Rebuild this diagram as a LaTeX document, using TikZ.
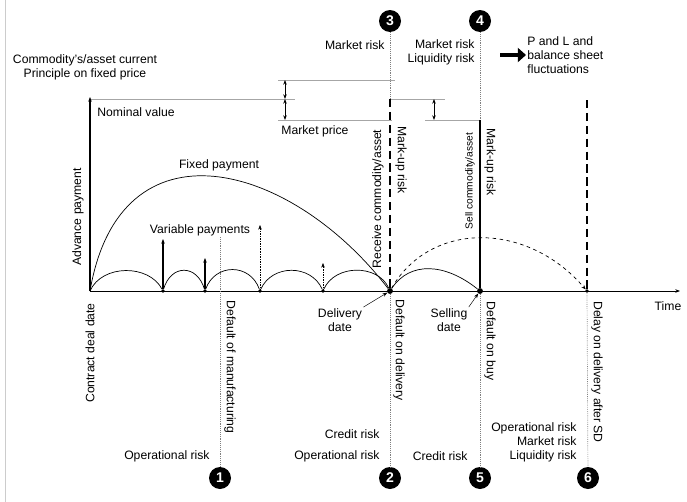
\documentclass[tikz,border=0pt]{standalone}
\usepackage{fontspec}
\setmainfont{Liberation Sans}
\usetikzlibrary{arrows.meta}

\tikzset{
    num/.style={circle, fill=black, text=white, inner sep=0pt, minimum size=0.66cm,
        font=\bfseries\fontsize{12}{12}\selectfont},
    lbl/.style={inner sep=1pt, font=\fontsize{10.4}{12}\selectfont},
    small/.style={inner sep=1pt, font=\fontsize{8.7}{10}\selectfont},
    guide/.style={densely dotted, gray, line width=0.6pt},
    level/.style={gray!70, line width=0.6pt},
    dot/.style={circle, fill=black, inner sep=0pt, minimum size=3pt},
    bigdot/.style={circle, fill=black, inner sep=0pt, minimum size=5pt},
    bigdash/.style={line width=1.3pt, dash pattern=on 7pt off 4pt},
}

\begin{document}
\begin{tikzpicture}[x=0.03cm, y=-0.03cm, >={Stealth[length=4pt,width=3pt]}]
    \useasboundingbox (0,0) rectangle (687,502);
    \draw[gray!40] (5,0) -- (5,502);

    % draws points on the time axis
    \coordinate (o) at (90,291);
    \coordinate (tend) at (680,291);
    \coordinate (ytop) at (90,97);
    \node[dot] (p1) at (163,291) {};
    \node[dot] (p2) at (205,291) {};
    \node[dot] (p3) at (260,291) {};
    \node[dot] (p4) at (323,291) {};
    \node[bigdot] (D) at (390,291) {};
    \node[bigdot] (S) at (480,291) {};
    \node[dot] (E) at (587,291) {};
    \coordinate (dm) at (220,237);

    % draws numbered circles
    \node[num] (n3) at (390,21) {3};
    \node[num] (n4) at (480,21) {4};
    \node[num] (n1) at (220,478) {1};
    \node[num] (n2) at (390,478) {2};
    \node[num] (n5) at (480,478) {5};
    \node[num] (n6) at (588,478) {6};

    % draws price levels
    \coordinate (nomL) at (90,99);
    \coordinate (nomR) at (295,99);
    \coordinate (curL) at (278,80);
    \coordinate (curR) at (395,80);
    \coordinate (mktL) at (278,120);
    \coordinate (mktR) at (392,120);
    \coordinate (rcvL) at (390,99);
    \coordinate (rcvR) at (445,99);
    \coordinate (selL) at (425,120);
    \coordinate (selR) at (480,120);
    \coordinate (dly) at (587,100);
    \draw[level] (nomL) -- (nomR);
    \draw[level] (curL) -- (curR);
    \draw[level] (mktL) -- (mktR);
    \draw[level] (rcvL) -- (rcvR);
    \draw[level] (selL) -- (selR);
    \draw[<->, thick] (285,80) -- (285,99);
    \draw[<->, thick] (285,99) -- (285,120);
    \draw[<->, thick] (434,99) -- (434,120);

    % draws axes
    \draw[->, line width=0.8pt] (o) -- (tend);
    \draw[->, line width=1pt] (o) -- (ytop);

    % draws event lines
    \draw[guide] (n3) -- (rcvL);
    \draw[guide] (n4) -- (selR);
    \draw[guide] (dm) -- (n1);
    \draw[guide] (D) -- (n2);
    \draw[guide] (S) -- (n5);
    \draw[guide] (E) -- (n6);
    \draw[bigdash] (rcvL) -- (D);
    \draw[line width=1.3pt] (selR) -- (S);
    \draw[bigdash] (dly) -- (E);

    % draws payments
    \draw[semithick] (o) .. controls +(30,-175) and +(-100,-130) .. (D);
    \draw[semithick] (o) .. controls +(12,-27) and +(-14,-27) .. (p1);
    \draw[semithick] (p1) .. controls +(8,-27) and +(-8,-27) .. (p2);
    \draw[semithick] (p2) .. controls +(10,-28) and +(-10,-28) .. (p3);
    \draw[semithick] (p3) .. controls +(12,-27) and +(-12,-27) .. (p4);
    \draw[semithick] (p4) .. controls +(12,-27) and +(-12,-27) .. (D);
    \draw[semithick] (D) .. controls +(20,-30) and +(-35,-28) .. (S);
    \draw[semithick, dashed, ->] (D) .. controls +(40,-70) and +(-60,-70) .. (E);
    \coordinate (v1) at (163,239);
    \coordinate (v2) at (205,258);
    \coordinate (v3) at (260,225);
    \coordinate (v4) at (323,263);
    \draw[->, line width=1.2pt] (p1) -- (v1);
    \draw[->, line width=1.2pt] (p2) -- (v2);
    \draw[->, densely dotted] (p3) -- (v3);
    \draw[->, densely dotted] (p4) -- (v4);

    % labels
    \node[lbl, align=center] (curlbl) at (85,67) {Commodity's/asset current\\Principle on fixed price};
    \node[lbl, anchor=west] (nomlbl) at (96,112) {Nominal value};
    \node[lbl, anchor=west] (mktlbl) at (280,131) {Market price};
    \node[lbl] (fixlbl) at (219,165) {Fixed payment};
    \node[lbl] (varlbl) at (200,230) {Variable payments};
    \node[lbl, rotate=90] (advlbl) at (78,217) {Advance payment};
    \node[lbl, rotate=90] (cdd) at (90,353) {Contract deal date};
    \node[lbl, rotate=-90] (dom) at (230,367) {Default of manufacturing};
    \node[lbl, rotate=90] (rcv) at (378,199) {Receive commodity/asset};
    \node[lbl, rotate=-90] (mu1) at (401,160) {Mark-up risk};
    \node[small, rotate=90] (sell) at (470,181) {Sell commodity/asset};
    \node[lbl, rotate=-90] (mu2) at (490,162) {Mark-up risk};
    \node[lbl, rotate=-90] (dod) at (399,350) {Default on delivery};
    \node[lbl, rotate=-90] (dob) at (490,341) {Default on buy};
    \node[lbl, rotate=-90] (dsd) at (597,372) {Delay on delivery after SD};
    \node[lbl] (time) at (668,306) {Time};
    \node[lbl, align=center] (ddate) at (340,320) {Delivery\\date};
    \node[lbl, align=center] (sdate) at (449,320) {Selling\\date};
    \draw[->] (ddate.north east) -- (D);
    \draw[->] (sdate.north east) -- (S);

    % risks
    \node[lbl, anchor=east] (r3) at (386,45) {Market risk};
    \node[lbl, anchor=east, align=right] (r4) at (476,52) {Market risk\\Liquidity risk};
    \node[lbl, anchor=west, align=left] (pl) at (526,55) {P and L and\\balance sheet\\fluctuations};
    \coordinate (fat) at (500,55);
    \draw[line width=4pt, -{Triangle[length=7pt,width=12pt]}] (fat) -- (pl.west);
    \node[lbl, anchor=east] (r1) at (211,456) {Operational risk};
    \node[lbl, anchor=east] (r2a) at (381,434) {Credit risk};
    \node[lbl, anchor=east] (r2b) at (381,456) {Operational risk};
    \node[lbl, anchor=east] (r5) at (469,456) {Credit risk};
    \node[lbl, anchor=east, align=right] (r6) at (578,442) {Operational risk\\Market risk\\Liquidity risk};
\end{tikzpicture}
\end{document}
